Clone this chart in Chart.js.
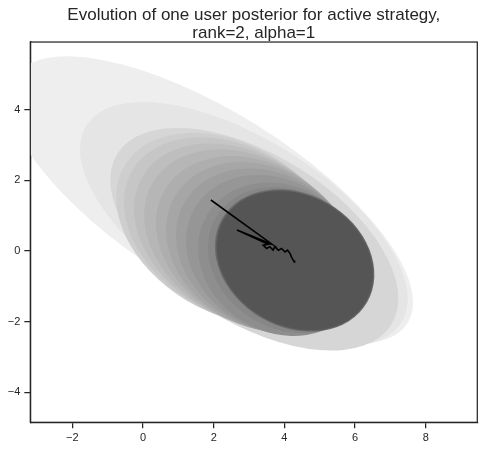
<!DOCTYPE html>
<html>
<head>
<meta charset="utf-8">
<script src="https://cdn.jsdelivr.net/npm/chart.js@4.4.1/dist/chart.umd.min.js"></script>
<style>
  html, body { margin: 0; padding: 0; background: #ffffff; }
  #wrap { width: 490px; height: 449px; }
</style>
</head>
<body>
<div id="wrap"><canvas id="chart" width="490" height="449"></canvas></div>
<script>
// Posterior mean path
const pathX = [1.92, 3.65, 2.66, 3.54, 3.40, 3.50, 3.59, 3.68, 3.73, 3.83, 3.92, 4.02, 4.09, 4.16, 4.20, 4.25, 4.28, 4.29];
const pathY = [1.44, 0.19, 0.59, 0.19, 0.16, 0.07, 0.12, 0.02, 0.12, 0.02, 0.07, -0.03, 0.02, -0.07, -0.17, -0.26, -0.31, -0.27];

// Posterior ellipses, oldest first: centre, semi-axes, angle (deg), grey shade
const ellCx = [1.921, 2.854, 3.149, 2.453, 2.586, 2.767, 2.948, 3.144, 3.325, 3.500, 3.690, 3.907, 4.110, 4.290, 4.295, 4.297];
const ellCy = [1.437, 0.758, 0.330, 0.636, 0.557, 0.446, 0.339, 0.223, 0.112, 0.008, -0.105, -0.238, -0.260, -0.270, -0.272, -0.274];
const ellA = [6.563, 5.256, 4.571, 3.465, 3.366, 3.239, 3.112, 2.942, 2.815, 2.696, 2.588, 2.441, 2.376, 2.370, 2.340, 2.317];
const ellB = [2.489, 2.405, 2.376, 2.376, 2.348, 2.320, 2.291, 2.263, 2.235, 2.178, 2.121, 2.065, 1.950, 1.880, 1.855, 1.833];
const ellAngle = [-32, -32, -32, -31, -31, -31, -31, -31, -31, -31, -31, -31, -31, -30, -30, -30];
const ellShade = ['#eeeeee', '#e5e5e5', '#d6d6d6', '#cecece', '#c6c6c6', '#bebebe', '#b6b6b6', '#aeaeae',
                  '#a6a6a6', '#9e9e9e', '#969696', '#8e8e8e', '#878787', '#6c6c6c', '#5e5e5e', '#555555'];

// Axis ranges and ticks
const xRange = [-3.19, 9.46];
const yRange = [-4.85, 5.91];
const tickStep = 2;

const titleLines = ['Evolution of one user posterior for active strategy,', 'rank=2, alpha=1'];

const ink = '#262626';
const fontFamily = '"Liberation Sans", Arial, sans-serif';

// draws the covariance ellipses under the path, in data space
const ellipsePlugin = {
  id: 'ellipses',
  beforeDatasetsDraw(chart) {
    const { ctx, chartArea, scales } = chart;
    const sx = scales.x.getPixelForValue(1) - scales.x.getPixelForValue(0);
    const sy = scales.y.getPixelForValue(0) - scales.y.getPixelForValue(1);
    ctx.save();
    ctx.beginPath();
    ctx.rect(chartArea.left, chartArea.top, chartArea.right - chartArea.left, chartArea.bottom - chartArea.top);
    ctx.clip();
    for (let i = 0; i < ellCx.length; i++) {
      ctx.save();
      ctx.translate(scales.x.getPixelForValue(ellCx[i]), scales.y.getPixelForValue(ellCy[i]));
      ctx.scale(sx, -sy);
      ctx.rotate(ellAngle[i] * Math.PI / 180);
      ctx.beginPath();
      ctx.ellipse(0, 0, ellA[i], ellB[i], 0, 0, Math.PI * 2);
      ctx.fillStyle = ellShade[i];
      ctx.fill();
      ctx.restore();
    }
    ctx.restore();
  },
  afterDraw(chart) {
    // full frame round the axes
    const { ctx, chartArea } = chart;
    ctx.save();
    ctx.strokeStyle = ink;
    ctx.lineWidth = 1.25;
    ctx.strokeRect(chartArea.left, chartArea.top, chartArea.right - chartArea.left, chartArea.bottom - chartArea.top);
    ctx.restore();
  }
};

const minusSign = v => String(v).replace('-', '\u2212');

new Chart(document.getElementById('chart'), {
  type: 'scatter',
  data: {
    datasets: [{
      data: pathX.map((x, i) => ({ x: x, y: pathY[i] })),
      showLine: true,
      borderColor: '#000000',
      borderWidth: 1.6,
      pointRadius: 0,
      tension: 0
    }]
  },
  options: {
    responsive: false,
    animation: false,
    layout: { padding: { left: 0, right: 12.7, top: 0, bottom: 0 } },
    plugins: {
      legend: { display: false },
      tooltip: { enabled: false },
      title: {
        display: true,
        fullSize: false,
        text: titleLines,
        color: ink,
        font: { family: fontFamily, size: 17, weight: 'normal', lineHeight: 1.06 },
        padding: { top: 6, bottom: 0 }
      }
    },
    scales: {
      x: {
        type: 'linear',
        min: xRange[0],
        max: xRange[1],
        afterFit: s => { s.height = 26.7; },
        grid: { drawOnChartArea: false, drawTicks: true, tickLength: 6, color: ink, lineWidth: 1.25 },
        border: { display: true, color: ink, width: 1.25 },
        ticks: {
          stepSize: tickStep,
          includeBounds: false,
          color: ink,
          padding: 3,
          maxRotation: 0,
          font: { family: fontFamily, size: 11 },
          callback: v => minusSign(v)
        }
      },
      y: {
        type: 'linear',
        min: yRange[0],
        max: yRange[1],
        afterFit: s => { s.width = 30.3; },
        grid: { drawOnChartArea: false, drawTicks: true, tickLength: 6, color: ink, lineWidth: 1.25 },
        border: { display: true, color: ink, width: 1.25 },
        ticks: {
          stepSize: tickStep,
          includeBounds: false,
          color: ink,
          padding: 4,
          font: { family: fontFamily, size: 11 },
          callback: v => minusSign(v)
        }
      }
    }
  },
  plugins: [ellipsePlugin]
});
</script>
</body>
</html>
